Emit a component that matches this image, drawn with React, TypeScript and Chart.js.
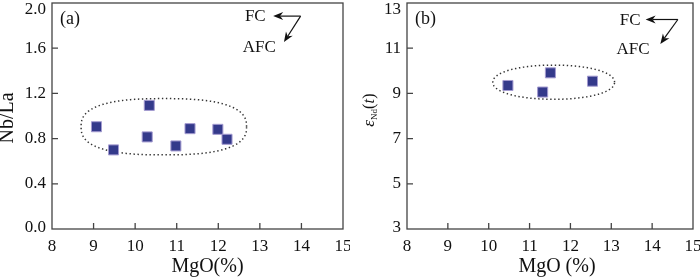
import React, { useEffect, useRef } from "react";
import { Chart, registerables } from "chart.js";

Chart.register(...registerables);

// ---------- data ----------
const MGO_TICKS = [8, 9, 10, 11, 12, 13, 14, 15];

const NBLA_TICKS = [0, 0.4, 0.8, 1.2, 1.6, 2.0];
const NBLA_TICK_LABELS = ["0.0", "0.4", "0.8", "1.2", "1.6", "2.0"];

const END_TICKS = [3, 5, 7, 9, 11, 13];
const END_TICK_LABELS = ["3", "5", "7", "9", "11", "13"];

// panel (a): MgO vs Nb/La
const mgoA = [9.07, 9.48, 10.34, 10.29, 10.98, 11.32, 11.99, 12.21];
const nbLa = [0.905, 0.7, 1.094, 0.815, 0.735, 0.888, 0.882, 0.794];

// panel (b): MgO vs eNd(t)
const mgoB = [10.47, 11.51, 11.32, 12.54];
const eNdT = [9.35, 9.91, 9.06, 9.54];

const FONT = '"Liberation Serif", "Times New Roman", Times, serif';
const TEXT = "#111";

type Pt = [number, number];
interface PanelSpec {
  xs: number[];
  ys: number[];
  yMin: number;
  yMax: number;
  yTicks: number[];
  yLabels: string[];
  yAxisWidth: number;
  panel: string;
  xTitle: string;
  xTitleShift: number;
  yTitle: "nbla" | "end";
  region: { cx: number; cy: number; rx: number; ry: number; p: number };
  fc: Pt;
  afc: Pt;
  arrowFrom: Pt;
  arrowH: Pt;
  arrowD: Pt;
}

const SPEC_A: PanelSpec = {
  xs: mgoA,
  ys: nbLa,
  yMin: 0,
  yMax: 2,
  yTicks: NBLA_TICKS,
  yLabels: NBLA_TICK_LABELS,
  yAxisWidth: 52,
  panel: "(a)",
  xTitle: "MgO(%)",
  xTitleShift: 10,
  yTitle: "nbla",
  region: { cx: 10.69, cy: 0.905, rx: 1.99, ry: 0.249, p: 2.6 },
  fc: [12.64, 1.88],
  afc: [12.59, 1.606],
  arrowFrom: [13.98, 1.884],
  arrowH: [13.32, 1.884],
  arrowD: [13.58, 1.654],
};

const SPEC_B: PanelSpec = {
  xs: mgoB,
  ys: eNdT,
  yMin: 3,
  yMax: 13,
  yTicks: END_TICKS,
  yLabels: END_TICK_LABELS,
  yAxisWidth: 57,
  panel: "(b)",
  xTitle: "MgO (%)",
  xTitleShift: 7,
  yTitle: "end",
  region: { cx: 11.59, cy: 9.495, rx: 1.49, ry: 0.755, p: 2.1 },
  fc: [13.21, 12.24],
  afc: [13.13, 10.93],
  arrowFrom: [14.63, 12.27],
  arrowH: [13.84, 12.27],
  arrowD: [14.2, 11.19],
};

function drawArrow(ctx: CanvasRenderingContext2D, x0: number, y0: number, x1: number, y1: number) {
  const ang = Math.atan2(y1 - y0, x1 - x0);
  const len = 10;
  const half = 4;
  const notch = 3;
  const bx = x1 - Math.cos(ang) * len;
  const by = y1 - Math.sin(ang) * len;
  ctx.beginPath();
  ctx.moveTo(x0, y0);
  ctx.lineTo(x1 - Math.cos(ang) * (len - notch), y1 - Math.sin(ang) * (len - notch));
  ctx.stroke();
  ctx.beginPath();
  ctx.moveTo(x1, y1);
  ctx.lineTo(bx - Math.sin(ang) * half, by + Math.cos(ang) * half);
  ctx.lineTo(x1 - Math.cos(ang) * (len - notch), y1 - Math.sin(ang) * (len - notch));
  ctx.lineTo(bx + Math.sin(ang) * half, by - Math.cos(ang) * half);
  ctx.closePath();
  ctx.fill();
}

function makePlugin(spec: PanelSpec) {
  return {
    id: "decor",
    beforeDatasetsDraw(chart: any) {
      const { ctx, scales } = chart;
      const x = scales.x;
      const y = scales.y;
      const { cx, cy, rx, ry, p } = spec.region;
      ctx.save();
      ctx.beginPath();
      const N = 240;
      for (let i = 0; i <= N; i++) {
        const t = (i / N) * Math.PI * 2;
        const c = Math.cos(t);
        const s = Math.sin(t);
        const ex = Math.sign(c) * Math.pow(Math.abs(c), 2 / p);
        const ey = Math.sign(s) * Math.pow(Math.abs(s), 2 / p);
        const X = x.getPixelForValue(cx + rx * ex);
        const Y = y.getPixelForValue(cy + ry * ey);
        if (i === 0) ctx.moveTo(X, Y);
        else ctx.lineTo(X, Y);
      }
      ctx.closePath();
      ctx.setLineDash([1.4, 2.6]);
      ctx.lineWidth = 1.5;
      ctx.strokeStyle = "#333";
      ctx.stroke();
      ctx.restore();
    },
    afterDraw(chart: any) {
      const { ctx, chartArea: a, scales } = chart;
      const x = scales.x;
      const y = scales.y;
      ctx.save();
      // frame
      ctx.strokeStyle = "#444";
      ctx.lineWidth = 1.3;
      ctx.strokeRect(a.left, a.top, a.right - a.left, a.bottom - a.top);
      // inward ticks
      ctx.beginPath();
      MGO_TICKS.forEach((v, i) => {
        if (i === 0 || i === MGO_TICKS.length - 1) return;
        const X = x.getPixelForValue(v);
        ctx.moveTo(X, a.bottom);
        ctx.lineTo(X, a.bottom - 6);
      });
      spec.yTicks.forEach((v, i) => {
        if (i === 0 || i === spec.yTicks.length - 1) return;
        const Y = y.getPixelForValue(v);
        ctx.moveTo(a.left, Y);
        ctx.lineTo(a.left + 6, Y);
      });
      ctx.stroke();

      // y tick labels
      ctx.fillStyle = TEXT;
      ctx.font = `17px ${FONT}`;
      ctx.textAlign = "right";
      ctx.textBaseline = "middle";
      spec.yTicks.forEach((v, i) => {
        let Y = y.getPixelForValue(v);
        Y = Math.max(Y, a.top + 7);
        Y = Math.min(Y, a.bottom - 1.5);
        ctx.fillText(spec.yLabels[i], a.left - 6, Y);
      });

      // x title
      ctx.font = `20px ${FONT}`;
      ctx.textAlign = "center";
      ctx.fillText(spec.xTitle, (a.left + a.right) / 2 + spec.xTitleShift, 266.5);

      // y title
      if (spec.yTitle === "nbla") {
        ctx.save();
        ctx.translate(8, 118);
        ctx.rotate(-Math.PI / 2);
        ctx.font = `20px ${FONT}`;
        ctx.textAlign = "center";
        ctx.textBaseline = "middle";
        ctx.fillText("Nb/La", 0, 0);
        ctx.restore();
      } else {
        ctx.save();
        ctx.translate(19, 110);
        ctx.rotate(-Math.PI / 2);
        ctx.textAlign = "left";
        ctx.textBaseline = "alphabetic";
        const parts: { t: string; f: string; dy: number }[] = [
          { t: "ε", f: `italic 17px ${FONT}`, dy: 0 },
          { t: "Nd", f: `9px ${FONT}`, dy: 3 },
          { t: "(", f: `16px ${FONT}`, dy: 0 },
          { t: "t", f: `italic 16px ${FONT}`, dy: 0 },
          { t: ")", f: `16px ${FONT}`, dy: 0 },
        ];
        let W = 0;
        parts.forEach((pp) => {
          ctx.font = pp.f;
          W += ctx.measureText(pp.t).width + (pp.t === "t" ? 0.5 : 0);
        });
        let cx0 = -W / 2;
        parts.forEach((pp) => {
          ctx.font = pp.f;
          ctx.fillText(pp.t, cx0, 5 + pp.dy);
          cx0 += ctx.measureText(pp.t).width + (pp.t === "t" ? 0.5 : 0);
        });
        ctx.restore();
      }

      // panel label
      ctx.font = `18px ${FONT}`;
      ctx.textAlign = "left";
      ctx.textBaseline = "middle";
      ctx.fillText(spec.panel, a.left + 8, a.top + 16);

      // FC / AFC
      ctx.font = `17px ${FONT}`;
      ctx.fillStyle = TEXT;
      ctx.fillText("FC", x.getPixelForValue(spec.fc[0]), y.getPixelForValue(spec.fc[1]));
      ctx.fillText("AFC", x.getPixelForValue(spec.afc[0]), y.getPixelForValue(spec.afc[1]));

      ctx.strokeStyle = TEXT;
      ctx.fillStyle = TEXT;
      ctx.lineWidth = 1.2;
      const fx = x.getPixelForValue(spec.arrowFrom[0]);
      const fy = y.getPixelForValue(spec.arrowFrom[1]);
      drawArrow(ctx, fx, fy, x.getPixelForValue(spec.arrowH[0]), y.getPixelForValue(spec.arrowH[1]));
      drawArrow(ctx, fx, fy, x.getPixelForValue(spec.arrowD[0]), y.getPixelForValue(spec.arrowD[1]));
      ctx.restore();
    },
  };
}

function Panel({ spec, left }: { spec: PanelSpec; left: number }) {
  const ref = useRef<HTMLCanvasElement | null>(null);
  useEffect(() => {
    if (!ref.current) return;
    const chart = new Chart(ref.current, {
      type: "scatter",
      data: {
        datasets: [
          {
            data: spec.xs.map((v, i) => ({ x: v, y: spec.ys[i] })),
            pointStyle: "rect",
            pointRadius: 7.1,
            pointHoverRadius: 7.1,
            backgroundColor: "#343a8b",
            borderColor: "#a49bd0",
            borderWidth: 1,
            clip: false,
          },
        ],
      },
      options: {
        responsive: false,
        animation: false,
        events: [],
        layout: { autoPadding: false, padding: { top: 3, right: 7, left: 0, bottom: 0 } },
        plugins: { legend: { display: false }, tooltip: { enabled: false } },
        scales: {
          x: {
            type: "linear",
            min: 8,
            max: 15,
            grid: { display: false, drawTicks: false },
            border: { display: false },
            ticks: {
              stepSize: 1,
              padding: 7,
              color: TEXT,
              font: { family: FONT, size: 17 },
              autoSkip: false,
              maxRotation: 0,
            },
            afterFit: (s: any) => {
              s.height = 48;
              s.paddingLeft = 0;
              s.paddingRight = 0;
            },
          },
          y: {
            type: "linear",
            min: spec.yMin,
            max: spec.yMax,
            grid: { display: false, drawTicks: false },
            border: { display: false },
            ticks: { display: false, stepSize: spec.yTicks[1] - spec.yTicks[0] },
            afterFit: (s: any) => {
              s.width = spec.yAxisWidth;
              s.paddingTop = 0;
              s.paddingBottom = 0;
            },
          },
        },
      },
      plugins: [makePlugin(spec)],
    } as any);
    return () => chart.destroy();
  }, [spec]);
  return (
    <canvas
      ref={ref}
      width={350}
      height={277}
      style={{ position: "absolute", left, top: 0, width: 350, height: 277 }}
    />
  );
}

export default function App() {
  return (
    <div
      style={{
        position: "absolute",
        left: 0,
        top: 0,
        width: 700,
        height: 277,
        background: "#fff",
        overflow: "hidden",
      }}
    >
      <Panel spec={SPEC_A} left={0} />
      <Panel spec={SPEC_B} left={350} />
    </div>
  );
}
